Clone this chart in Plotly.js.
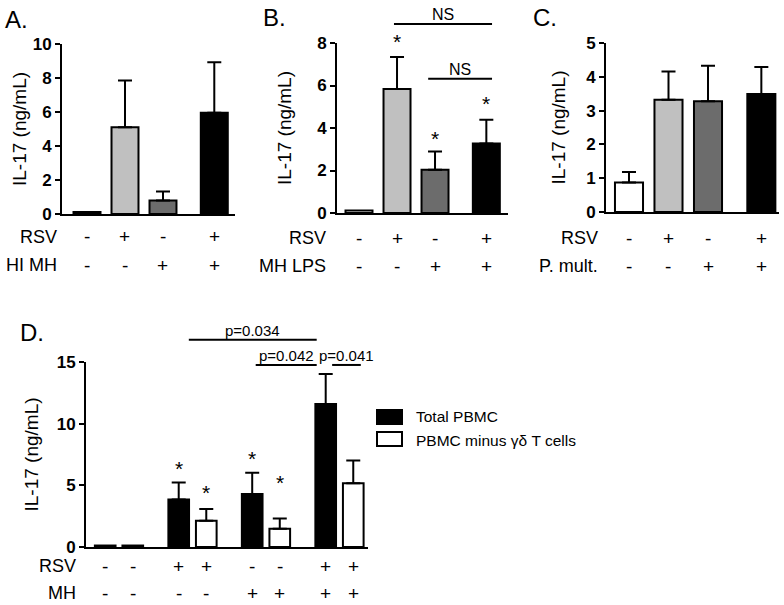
<!DOCTYPE html>
<html>
<head>
<meta charset="utf-8">
<script src="https://cdn.plot.ly/plotly-3.0.1.min.js"></script>
<style>html,body{margin:0;padding:0;background:#fff;}#chart{width:784px;height:605px;}</style>
</head>
<body>
<div id="chart"></div>
<script>
// ---------------- DATA ----------------
// Panel A
const signsA_RSV  = ['-', '+', '-', '+'];
const signsA_HIMH = ['-', '-', '+', '+'];
const valuesA = [0.12, 5.1, 0.8, 5.95];
const errorsA = [null, 2.75, 0.52, 2.97];
// Panel B
const signsB_RSV   = ['-', '+', '-', '+'];
const signsB_MHLPS = ['-', '-', '+', '+'];
const valuesB = [0.12, 5.84, 2.04, 3.27];
const errorsB = [null, 1.5, 0.86, 1.12];
const starsB  = [null, 8.3, 3.76, 5.4];
// Panel C
const signsC_RSV   = ['-', '+', '-', '+'];
const signsC_Pmult = ['-', '-', '+', '+'];
const valuesC = [0.87, 3.32, 3.28, 3.49];
const errorsC = [0.31, 0.84, 1.05, 0.8];
// Panel D
const seriesD = ['Total PBMC', 'PBMC minus γδ T cells'];
const signsD_RSV = ['-', '-', '+', '+', '-', '-', '+', '+'];
const signsD_MH  = ['-', '-', '-', '-', '+', '+', '+', '+'];
const totalPBMC   = [0.12, 3.86, 4.3, 11.6];
const totalErr    = [null, 1.37, 1.72, 2.42];
const minusGD     = [0.12, 2.13, 1.47, 5.16];
const minusErr    = [null, 0.96, 0.84, 1.86];
const starsTotal  = [null, 6.8, 7.6, null];
const starsMinus  = [null, 4.8, 5.6, null];
// significance brackets (data units)
const bracketsB = [
  {label: 'NS', from: 0.92, to: 3.5, level: 8.9},
  {label: 'NS', from: 1.82, to: 3.5, level: 6.32}
];
const bracketsD = [
  {label: 'p=0.034', from: 0.95, to: 2.69, level: 16.8},
  {label: 'p=0.042', from: 1.86, to: 2.69, level: 14.76},
  {label: 'p=0.041', from: 2.9,  to: 3.29, level: 14.76}
];

// ---------------- LAYOUT CONSTANTS ----------------
const W = 784, H = 605;
const FONT = 'Liberation Sans, Arial, Helvetica, sans-serif';
const fx = p => p / W, fy = p => 1 - p / H;
const xPos = [0, 1, 2, 3.35];          // bar slots, panels A-C
const groupPos = [0, 1, 2, 3];         // groups, panel D
const groupOffset = 0.1875;            // half-distance between paired bars
const colorsABC = ['#ffffff', '#c0c0c0', '#6c6c6c', '#000000'];

const P = {
  A: {n: '',  xpx: [62, 235],  ypx: [214, 44],  xr: [-0.658, 3.895], yr: [0, 10], dtick: 2, standoff: 1},
  B: {n: '2', xpx: [337, 508], ypx: [213, 43],  xr: [-0.579, 3.92],  yr: [0, 8],  dtick: 2, standoff: 20},
  C: {n: '3', xpx: [606, 779], ypx: [212, 43],  xr: [-0.582, 3.797], yr: [0, 5],  dtick: 1, standoff: 15},
  D: {n: '4', xpx: [86, 368],  ypx: [547, 362], xr: [-0.449, 3.388], yr: [0, 15], dtick: 5, standoff: 13}
};
function domX(p) { return [fx(p.xpx[0]), fx(p.xpx[1])]; }
function domY(p) { return [fy(p.ypx[0]), fy(p.ypx[1])]; }
function xP(p, v) { const d = domX(p); return d[0] + (v - p.xr[0]) / (p.xr[1] - p.xr[0]) * (d[1] - d[0]); }
function yP(p, v) { const d = domY(p); return d[0] + (v - p.yr[0]) / (p.yr[1] - p.yr[0]) * (d[1] - d[0]); }

function errY(err) {
  return {
    type: 'data', symmetric: false, visible: true,
    array: err.map(e => e == null ? NaN : e),
    arrayminus: err.map(e => e == null ? NaN : 0),
    color: '#000', thickness: 2, width: 7
  };
}

// ---------------- TRACES ----------------
const traces = [];
[['A', valuesA, errorsA], ['B', valuesB, errorsB], ['C', valuesC, errorsC]].forEach(([k, vals, errs]) => {
  const p = P[k];
  traces.push({
    type: 'bar', x: xPos, y: vals, width: 0.71,
    xaxis: 'x' + p.n, yaxis: 'y' + p.n,
    marker: {color: colorsABC, line: {color: '#000', width: 2}},
    error_y: errY(errs), showlegend: false, hoverinfo: 'skip'
  });
});
traces.push({
  type: 'bar', name: seriesD[0], x: groupPos, y: totalPBMC,
  xaxis: 'x4', yaxis: 'y4',
  marker: {color: '#000', line: {color: '#000', width: 2}},
  error_y: errY(totalErr), showlegend: false, hoverinfo: 'skip'
});
traces.push({
  type: 'bar', name: seriesD[1], x: groupPos, y: minusGD,
  xaxis: 'x4', yaxis: 'y4',
  marker: {color: '#fff', line: {color: '#000', width: 2}},
  error_y: errY(minusErr), showlegend: false, hoverinfo: 'skip'
});

// ---------------- LAYOUT ----------------
const layout = {
  width: W, height: H,
  margin: {l: 0, r: 0, t: 0, b: 0},
  paper_bgcolor: '#fff', plot_bgcolor: 'rgba(0,0,0,0)',
  barmode: 'group', bargap: 0.25, bargroupgap: 0.25,
  font: {family: FONT, color: '#000'},
  showlegend: false,
  annotations: [], shapes: []
};
Object.keys(P).forEach(k => {
  const p = P[k];
  layout['xaxis' + p.n] = {
    domain: domX(p), range: p.xr, anchor: 'y' + p.n,
    showline: true, linewidth: 2, linecolor: '#000',
    ticks: '', showticklabels: false, showgrid: false, zeroline: false, fixedrange: true
  };
  layout['yaxis' + p.n] = {
    domain: domY(p), range: p.yr, anchor: 'x' + p.n,
    showline: true, linewidth: 2, linecolor: '#000',
    ticks: 'outside', ticklen: 5, tickwidth: 2, tickcolor: '#000',
    tick0: 0, dtick: p.dtick, showgrid: false, zeroline: false, fixedrange: true,
    tickfont: {family: FONT, size: 17, color: '#000', weight: 'bold'},
    title: {text: 'IL-17 (ng/mL)', font: {family: FONT, size: 19, color: '#000'}, standoff: p.standoff}
  };
});

const A = layout.annotations, S = layout.shapes;
function txt(x, y, text, size, opts) {
  A.push(Object.assign({x: x, y: y, xref: 'paper', yref: 'paper', text: text, showarrow: false,
    font: {family: FONT, size: size, color: '#000'}, xanchor: 'center', yanchor: 'middle'}, opts || {}));
}

// panel letters
txt(fx(3), fy(19), 'A.', 24, {xanchor: 'left'});
txt(fx(261), fy(17), 'B.', 24, {xanchor: 'left'});
txt(fx(531), fy(17), 'C.', 24, {xanchor: 'left'});
txt(fx(18), fy(332), 'D.', 24, {xanchor: 'left'});

// row labels and signs
function rows(p, labels, rowsArr, positions, labelX, rowY) {
  labels.forEach((lab, r) => {
    txt(fx(labelX), fy(rowY[r]), lab, 18, {xanchor: 'right'});
    rowsArr[r].forEach((s, i) => txt(xP(p, positions[i]), fy(rowY[r]), s, 19));
  });
}
rows(P.A, ['RSV', 'HI MH'], [signsA_RSV, signsA_HIMH], xPos, 59, [237, 265]);
rows(P.B, ['RSV', 'MH LPS'], [signsB_RSV, signsB_MHLPS], xPos, 328, [238, 266]);
rows(P.C, ['RSV', 'P. mult.'], [signsC_RSV, signsC_Pmult], xPos, 600, [238, 266]);
const dSlots = [];
groupPos.forEach(g => { dSlots.push(g - groupOffset, g + groupOffset); });
rows(P.D, ['RSV', 'MH'], [signsD_RSV, signsD_MH], dSlots, 78, [566, 593]);

// stars
function star(p, x, v) { if (v != null) txt(xP(p, x), yP(p, v), '*', 21, {yshift: -5}); }
starsB.forEach((v, i) => star(P.B, xPos[i], v));
starsTotal.forEach((v, i) => star(P.D, groupPos[i] - groupOffset, v));
starsMinus.forEach((v, i) => star(P.D, groupPos[i] + groupOffset, v));

// brackets
function bracket(p, b, size) {
  const x0 = xP(p, b.from), x1 = xP(p, b.to), y = yP(p, b.level);
  S.push({type: 'line', xref: 'paper', yref: 'paper', x0: x0, x1: x1, y0: y, y1: y, line: {color: '#000', width: 2}});
  txt((x0 + x1) / 2, y, b.label, size, {yanchor: 'bottom', yshift: -1});
}
bracketsB.forEach(b => bracket(P.B, b, 16));
bracketsD.forEach(b => bracket(P.D, b, 15));

// legend for panel D
[[seriesD[0], '#000', 410, 416], [seriesD[1], '#fff', 432, 440]].forEach(([name, col, top, ty]) => {
  S.push({type: 'rect', xref: 'paper', yref: 'paper', x0: fx(377), x1: fx(402), y0: fy(top + 14), y1: fy(top),
    fillcolor: col, line: {color: '#000', width: 2}});
  txt(fx(414), fy(ty), name, 15.5, {xanchor: 'left'});
});

Plotly.newPlot('chart', traces, layout, {staticPlot: true, displayModeBar: false});
</script>
</body>
</html>
